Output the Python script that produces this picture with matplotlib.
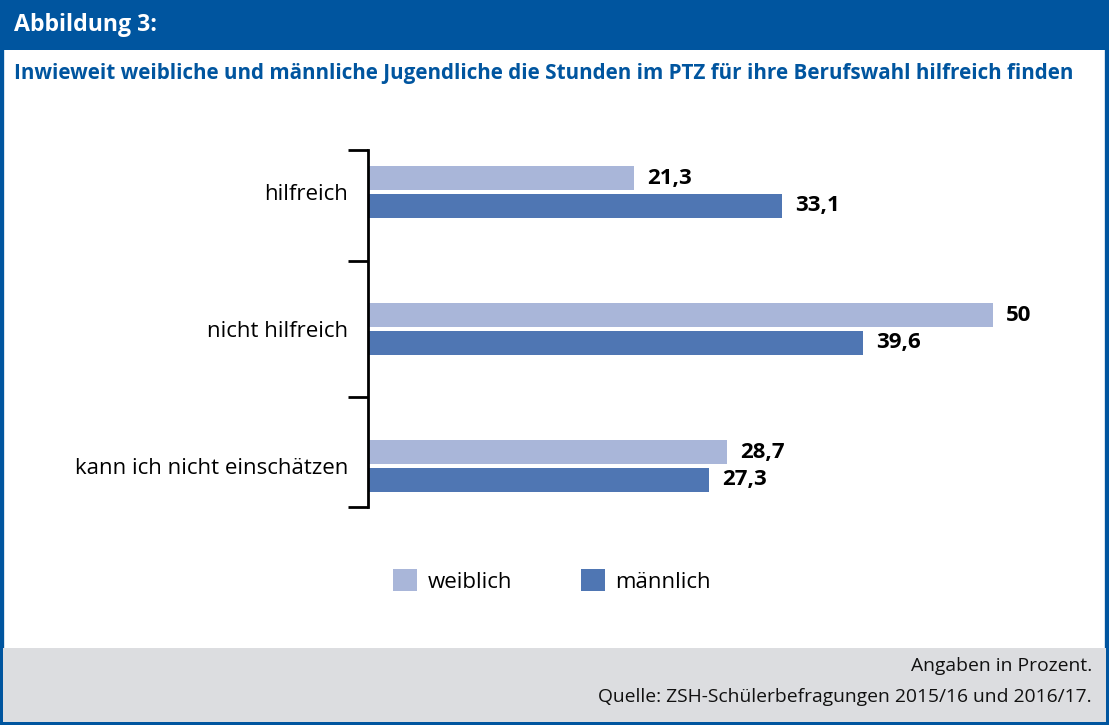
import matplotlib
matplotlib.use("Agg")
import matplotlib.pyplot as plt
from matplotlib.patches import Rectangle, Patch
import numpy as np

plt.rcParams['font.family'] = ['Open Sans', 'DejaVu Sans']

# data
categories = ["hilfreich", "nicht hilfreich", "kann ich nicht einschätzen"]
weiblich = [21.3, 50, 28.7]
maennlich = [33.1, 39.6, 27.3]
series_names = ["weiblich", "männlich"]
header_text = "Abbildung 3:"
title_text = "Inwieweit weibliche und männliche Jugendliche die Stunden im PTZ für ihre Berufswahl hilfreich finden"
footer_lines = ["Angaben in Prozent.", "Quelle: ZSH-Schülerbefragungen 2015/16 und 2016/17."]

c_light = "#a9b6d9"
c_dark = "#4f76b3"
c_blue = "#00559f"
c_grey = "#dcdde0"

W, H = 1109, 725
fig = plt.figure(figsize=(W / 100, H / 100), dpi=100)

def fx(px):
    return px / W

def fy(py):
    return 1 - py / H

# frame, header and footer
fig.patches.append(Rectangle((0, 0), 1, 1, transform=fig.transFigure, facecolor="white",
                             edgecolor=c_blue, linewidth=6, zorder=-3))
fig.patches.append(Rectangle((0, fy(50)), 1, fy(0) - fy(50), transform=fig.transFigure,
                             facecolor=c_blue, edgecolor="none", zorder=-2))
fig.patches.append(Rectangle((fx(3), fy(722)), fx(1103), fy(648) - fy(722), transform=fig.transFigure,
                             facecolor=c_grey, edgecolor="none", zorder=-2))

fig.text(fx(14), fy(25), header_text, color="white", fontsize=16.7, fontweight="bold",
         va="center", ha="left")
fig.text(fx(14), fy(73), title_text, color=c_blue, fontsize=14.9, fontweight="bold",
         va="center", ha="left")
fig.text(fx(1092), fy(666), footer_lines[0], fontsize=13.9, ha="right", va="center", color="#111111")
fig.text(fx(1092), fy(697), footer_lines[1], fontsize=13.9, ha="right", va="center", color="#111111")

# chart
ax = fig.add_axes([fx(368), fy(507), fx(687.5), fy(150) - fy(507)])
y = np.arange(len(categories))
bh = 0.175
ax.barh(y - 0.1, weiblich, height=bh, color=c_light, label=series_names[0])
ax.barh(y + 0.1, maennlich, height=bh, color=c_dark, label=series_names[1])

for yi, v in zip(y - 0.1, weiblich):
    ax.text(v + 1.05, yi, f"{v:g}".replace(".", ","), va="center", ha="left",
            fontsize=16, fontweight="bold")
for yi, v in zip(y + 0.1, maennlich):
    ax.text(v + 1.05, yi, f"{v:g}".replace(".", ","), va="center", ha="left",
            fontsize=16, fontweight="bold")

ax.set_xlim(0, 55)
y_top, y_bot = -0.307, 2.3
ax.set_ylim(y_bot, y_top)
ax.set_yticks([y_top, 0.5, 1.5, y_bot])
ax.set_yticklabels([])
ax.tick_params(axis="y", which="major", length=14.4, width=2, direction="out")
ax.set_yticks(y, minor=True)
ax.set_yticklabels(categories, minor=True, fontsize=16)
ax.tick_params(axis="y", which="minor", length=0, pad=14.4)
ax.set_xticks([])
for s in ["top", "right", "bottom"]:
    ax.spines[s].set_visible(False)
ax.spines["left"].set_linewidth(2)
ax.patch.set_alpha(0)

handles = [Patch(facecolor=c_light, label=series_names[0]),
           Patch(facecolor=c_dark, label=series_names[1])]
fig.legend(handles=handles, loc="center", bbox_to_anchor=(fx(552), fy(581)), ncol=2,
           frameon=False, fontsize=16, handlelength=1.08, handleheight=1.08,
           handletextpad=0.45, columnspacing=3.1)

fig.savefig("out.png", dpi=100)
